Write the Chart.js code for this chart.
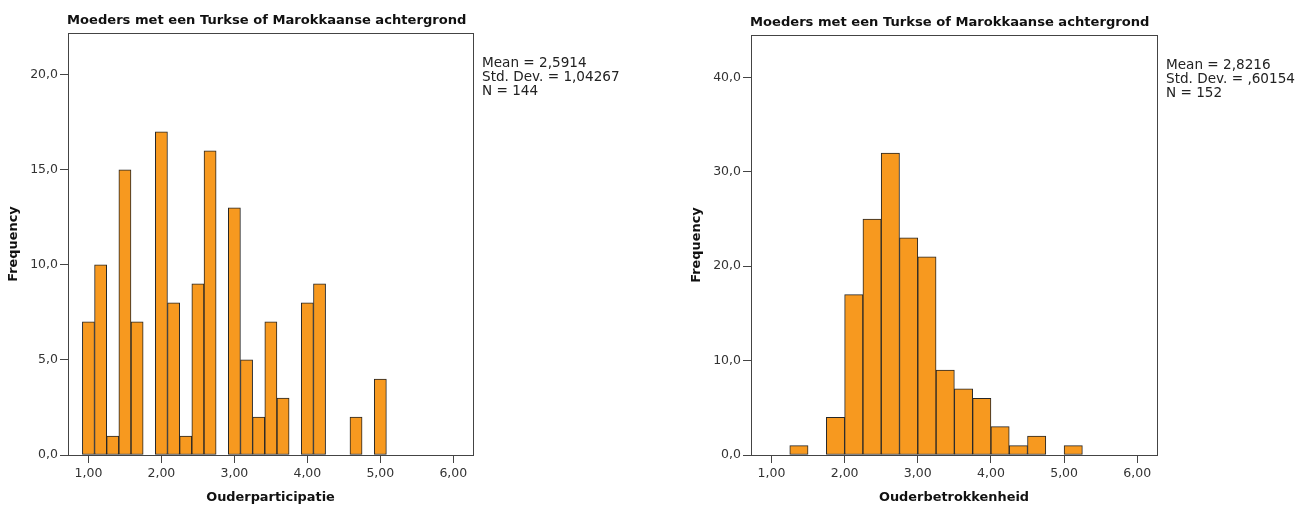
<!DOCTYPE html>
<html>
<head>
<meta charset="utf-8">
<script src="https://cdn.jsdelivr.net/npm/chart.js@4.4.1/dist/chart.umd.min.js"></script>
<style>
  body { margin: 0; background: #fff; }
  #wrap { position: relative; width: 1309px; height: 506px; }
  .box { position: absolute; top: 0; height: 506px; }
</style>
</head>
<body>
<div id="wrap">
  <div class="box" style="left:0;width:683px"><canvas id="chartLeft"></canvas></div>
  <div class="box" style="left:683px;width:626px"><canvas id="chartRight"></canvas></div>
</div>
<script>
// histogram 1: Ouderparticipatie (bin width 1/6)
var partBins = [1.000, 1.167, 1.333, 1.500, 1.667, 1.833, 2.000, 2.167, 2.333, 2.500, 2.667, 2.833,
                3.000, 3.167, 3.333, 3.500, 3.667, 3.833, 4.000, 4.167, 4.333, 4.500, 4.667, 4.833, 5.000];
var partCounts = [7, 10, 1, 15, 7, 0, 17, 8, 1, 9, 16, 0,
                  13, 5, 2, 7, 3, 0, 8, 9, 0, 0, 2, 0, 4];
var partStats = ['Mean = 2,5914', 'Std. Dev. = 1,04267', 'N = 144'];

// histogram 2: Ouderbetrokkenheid (bin width 0.25)
var betrBins = [1.375, 1.625, 1.875, 2.125, 2.375, 2.625, 2.875, 3.125, 3.375, 3.625,
                3.875, 4.125, 4.375, 4.625, 4.875, 5.125];
var betrCounts = [1, 0, 4, 17, 25, 32, 23, 21, 9, 7, 6, 3, 1, 2, 0, 1];
var betrStats = ['Mean = 2,8216', 'Std. Dev. = ,60154', 'N = 152'];

var groupTitle = 'Moeders met een Turkse of Marokkaanse achtergrond';
var xTicks = [1, 2, 3, 4, 5, 6];

Chart.defaults.font.family = "'DejaVu Sans', Verdana, sans-serif";
Chart.defaults.color = '#333';

var frame = {
  id: 'frame',
  afterDraw: function (chart) {
    var ctx = chart.ctx, a = chart.chartArea, o = chart.options.plugins.frame;
    ctx.save();
    ctx.strokeStyle = '#444';
    ctx.lineWidth = 1;
    ctx.strokeRect(Math.round(a.left) + 0.5, Math.round(a.top) + 0.5,
                   Math.round(a.right - a.left), Math.round(a.bottom - a.top));
    ctx.fillStyle = '#111';
    ctx.font = "bold 13.1px 'DejaVu Sans'";
    ctx.textBaseline = 'alphabetic';
    ctx.fillText(o.title, a.left - 1, a.top - 9.5);
    ctx.fillStyle = '#222';
    ctx.font = "13.6px 'DejaVu Sans'";
    o.stats.forEach(function (s, i) {
      ctx.fillText(s, a.right + 9, a.top + 33.5 + i * 14);
    });
    ctx.restore();
  }
};

function makeHist(id, bins, counts, stats, xTitle, yMax, yStep, padRight, top) {
  var pts = bins.map(function (b, i) { return { x: b, y: counts[i] }; });
  return new Chart(document.getElementById(id), {
    type: 'bar',
    data: {
      datasets: [{
        data: pts,
        backgroundColor: '#f7991f',
        borderColor: '#262626',
        borderWidth: 1,
        borderSkipped: false,
        barPercentage: 1,
        categoryPercentage: 1
      }]
    },
    options: {
      responsive: true,
      maintainAspectRatio: false,
      animation: false,
      layout: { padding: { top: top, right: padRight, left: 0, bottom: 0 } },
      plugins: {
        legend: { display: false },
        tooltip: { enabled: false },
        frame: { title: groupTitle, stats: stats }
      },
      scales: {
        x: {
          type: 'linear',
          offset: false,
          min: 0.72, max: 6.27,
          afterBuildTicks: function (s) { s.ticks = xTicks.map(function (v) { return { value: v }; }); },
          afterFit: function (s) { s.height = 51; },
          grid: { offset: false, drawOnChartArea: false, drawTicks: true, tickLength: 8, color: '#444' },
          border: { display: true, color: '#444' },
          ticks: {
            padding: 3, font: { size: 12.5 }, color: '#333', maxRotation: 0,
            callback: function (v) { return v.toFixed(2).replace('.', ','); }
          },
          title: { display: true, text: xTitle, font: { size: 12.9, weight: 'bold' }, color: '#111', padding: { top: 4, bottom: 1 } }
        },
        y: {
          min: 0, max: yMax,
          afterBuildTicks: function (s) {
            var t = [];
            for (var v = 0; v <= yMax; v += yStep) t.push({ value: v });
            s.ticks = t;
          },
          afterFit: function (s) { s.width = 68; },
          grid: { offset: false, drawOnChartArea: false, drawTicks: true, tickLength: 8, color: '#444' },
          border: { display: true, color: '#444' },
          ticks: {
            padding: 2, font: { size: 12.5 }, color: '#333',
            callback: function (v) { return v.toFixed(1).replace('.', ','); }
          },
          title: { display: true, text: 'Frequency', font: { size: 12.9, weight: 'bold' }, color: '#111', padding: { top: 6, bottom: 0 } }
        }
      }
    },
    plugins: [frame]
  });
}

makeHist('chartLeft', partBins, partCounts, partStats, 'Ouderparticipatie', 22.2, 5, 210, 33);
makeHist('chartRight', betrBins, betrCounts, betrStats, 'Ouderbetrokkenheid', 44.5, 10, 152, 35);
</script>
</body>
</html>
